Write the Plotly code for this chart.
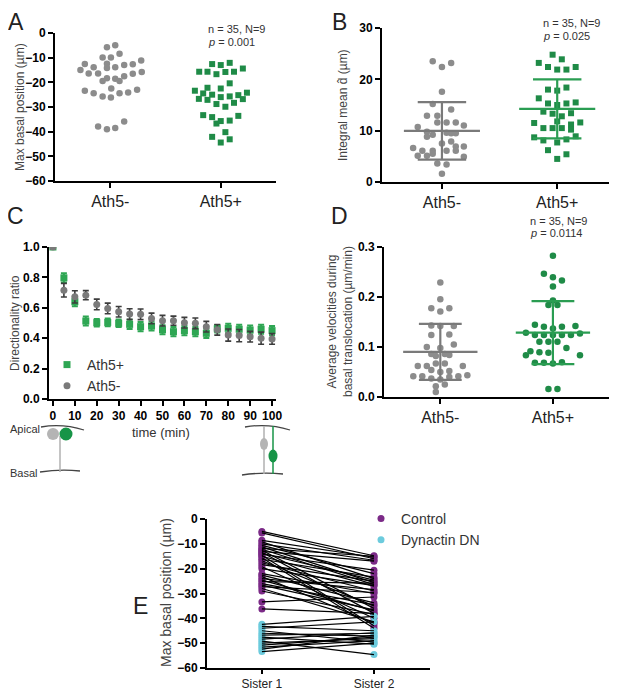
import plotly.graph_objects as go

# the page body keeps the browser's 8px margin, so the figure is drawn 8px smaller
# and all pixel positions below are given in window pixels
OFF = 8
W, H = 617, 691

# ---- data ----
groups = ["Ath5-", "Ath5+"]

# A: max basal position (um)
a_neg_val = [-5.8, -5.0, -8.4, -9.9, -9.9, -11.1, -12.6, -12.5, -13.0, -12.7, -13.9, -14.2, -13.9, -15.0,
             -16.4, -16.4, -16.5, -15.8, -17.5, -18.3, -18.5, -19.5, -19.5, -22.5, -23.4, -24.4, -24.4,
             -24.1, -23.0, -25.7, -26.1, -37.9, -39.0, -38.5, -35.9]
a_neg_off = [-0.03, 0.045, 0.084, -0.069, 0.006, 0.28, -0.23, -0.03, 0.126, 0.204, -0.15, -0.03, 0.045, -0.27,
             -0.195, -0.11, 0.204, 0.285, 0.126, -0.03, 0.045, -0.069, 0.084, 0.009, -0.23, -0.15, 0.084,
             0.162, 0.243, -0.069, 0.006, -0.11, -0.03, 0.045, 0.126]
a_pos_val = [-12.6, -13.0, -12.1, -15.7, -15.7, -16.7, -15.8, -15.7, -14.4, -20.4, -22.2, -22.5, -23.4, -24.5,
             -25.0, -26.7, -27.1, -26.0, -25.7, -25.2, -24.2, -26.8, -28.8, -29.9, -28.3, -33.3, -34.1,
             -36.7, -35.7, -35.5, -33.6, -42.1, -40.2, -44.4, -43.1]
a_pos_off = [-0.078, 0.0, 0.081, -0.195, -0.12, -0.039, 0.042, 0.12, 0.2, 0.081, -0.12, 0.0, -0.234, -0.159,
             -0.078, -0.198, -0.12, 0.0, 0.081, 0.159, 0.237, 0.2, -0.039, 0.042, 0.12, -0.159, -0.078,
             -0.039, 0.0, 0.081, 0.159, -0.078, 0.042, 0.0, 0.081]

# B: integral mean d (um)
b_neg_val = [23.5, 23.2, 22.4, 17.6, 15.2, 14.1, 12.9, 12.9, 11.6, 11.6, 11.6, 11.0, 10.7, 9.8, 9.6, 9.5,
             9.5, 9.2, 7.5, 6.6, 6.1, 6.9, 6.9, 6.1, 6.1, 6.1, 5.1, 5.5, 4.9, 5.1, 3.6, 3.4, 1.6, 8.8, 7.9]
b_neg_off = [-0.08, 0.08, 0.0, 0.0, -0.08, 0.08, -0.13, -0.04, 0.04, -0.04, 0.12, 0.19, -0.21, -0.13, 0.04,
             0.08, 0.12, -0.08, 0.0, -0.25, -0.17, 0.12, 0.19, -0.08, 0.04, 0.12, -0.21, -0.08, 0.19, -0.13,
             -0.04, 0.04, 0.0, -0.13, 0.08]
b_pos_val = [24.8, 23.9, 23.2, 22.4, 21.9, 21.9, 22.4, 18.0, 17.8, 18.4, 16.3, 15.3, 15.0, 15.3, 15.5, 13.7,
             13.3, 12.8, 13.4, 11.5, 11.8, 11.2, 11.6, 10.5, 10.5, 10.5, 10.2, 8.7, 8.1, 7.7, 8.3, 8.9, 6.2,
             5.4, 4.5]
b_pos_off = [-0.04, 0.04, -0.16, -0.08, 0.0, 0.08, 0.16, -0.08, 0.0, 0.08, -0.16, -0.08, 0.0, 0.08, 0.16,
             -0.12, -0.04, 0.04, 0.12, -0.2, 0.0, 0.12, 0.2, -0.12, -0.04, 0.04, 0.12, -0.2, -0.12, 0.0, 0.08,
             0.16, -0.08, 0.08, 0.0]
b_mean = [9.96, 14.25]
b_sd = [5.6, 5.75]

# C: directionality ratio over time
times = [0, 5, 10, 15, 20, 25, 30, 35, 40, 45, 50, 55, 60, 65, 70, 75, 80, 85, 90, 95, 100]
c_pos_mean = [1.0, 0.797, 0.64, 0.513, 0.502, 0.504, 0.498, 0.491, 0.476, 0.48, 0.456, 0.443, 0.45, 0.443,
              0.432, 0.462, 0.465, 0.459, 0.454, 0.459, 0.45]
c_pos_err = [0, 0.03, 0.03, 0.03, 0.025, 0.025, 0.025, 0.03, 0.03, 0.03, 0.03, 0.03, 0.03, 0.03, 0.03,
             0.025, 0.03, 0.03, 0.03, 0.03, 0.03]
c_neg_mean = [1.0, 0.716, 0.672, 0.683, 0.622, 0.596, 0.574, 0.559, 0.557, 0.53, 0.515, 0.515, 0.502, 0.498,
              0.476, 0.455, 0.421, 0.417, 0.41, 0.4, 0.395]
c_neg_err = [0, 0.045, 0.04, 0.03, 0.035, 0.035, 0.035, 0.035, 0.035, 0.035, 0.035, 0.03, 0.035, 0.035,
             0.035, 0.035, 0.04, 0.04, 0.035, 0.04, 0.035]

# D: average velocities (um/min)
d_neg_val = [0.229, 0.1955, 0.1775, 0.1775, 0.171, 0.143, 0.142, 0.142, 0.124, 0.125, 0.100, 0.098, 0.105,
             0.086, 0.086, 0.082, 0.084, 0.062, 0.062, 0.067, 0.067, 0.062, 0.054, 0.050, 0.052, 0.0415,
             0.0415, 0.037, 0.035, 0.040, 0.0415, 0.0435, 0.025, 0.0215, 0.010]
d_neg_off = [0.0, 0.0, -0.08, 0.08, 0.0, -0.08, 0.0, 0.12, -0.08, 0.08, -0.12, 0.0, 0.12, -0.08, 0.04, -0.04,
             0.08, -0.2, -0.12, -0.04, 0.04, 0.2, -0.08, 0.0, 0.08, -0.24, -0.16, -0.08, 0.0, 0.08, 0.16,
             0.24, 0.04, -0.04, -0.04]
d_pos_val = [0.2826, 0.2464, 0.2397, 0.233, 0.221, 0.193, 0.184, 0.184, 0.1446, 0.1406, 0.137, 0.1406, 0.142,
             0.1286, 0.124, 0.124, 0.124, 0.124, 0.124, 0.127, 0.1105, 0.1105, 0.1105, 0.098, 0.0917, 0.0897,
             0.0884, 0.0837, 0.0837, 0.0683, 0.0683, 0.067, 0.0696, 0.016, 0.016]
d_pos_off = [0.0, -0.08, 0.0, 0.08, 0.0, 0.0, -0.04, 0.04, -0.16, -0.08, 0.0, 0.08, 0.2, -0.24, -0.16, -0.08,
             0.0, 0.08, 0.16, 0.24, -0.12, -0.04, 0.04, 0.12, -0.2, -0.12, -0.04, -0.24, 0.24, -0.16, -0.08,
             0.0, 0.08, -0.04, 0.04]
d_mean = [0.0904, 0.1286]
d_sd = [0.056, 0.063]

# E: sister cells
sisters = ["Sister 1", "Sister 2"]
ctrl_s1 = [-5.0, -5.6, -8.6, -9.2, -10.0, -10.6, -11.2, -11.8, -12.2, -12.6, -13.0, -13.4, -13.8, -14.2,
           -14.6, -15.0, -15.6, -16.2, -16.8, -17.6, -18.4, -19.2, -20.0, -22.0, -22.6, -23.2, -24.0, -24.6,
           -25.2, -26.0, -26.6, -27.2, -28.0, -29.0, -33.4, -36.2]
ctrl_s2 = [-14.8, -16.0, -15.4, -24.0, -16.6, -22.0, -25.6, -15.0, -26.4, -36.0, -17.0, -38.0, -24.6, -20.6,
           -43.0, -27.0, -44.0, -23.4, -35.0, -29.0, -25.0, -40.0, -26.8, -30.0, -33.8, -42.0, -28.4, -37.0,
           -25.8, -34.6, -36.6, -29.6, -41.4, -38.4, -31.4, -38.0]
dn_s1 = [-42.4, -43.2, -44.0, -45.0, -46.0, -46.8, -47.6, -48.4, -49.2, -50.0, -50.8, -51.6, -52.4, -53.4]
dn_s2 = [-39.2, -45.0, -41.4, -49.6, -47.2, -46.0, -50.4, -45.8, -54.6, -48.2, -47.6, -49.0, -46.8, -50.0]

GRAY = "#8c8c8c"
GREEN = "#1f8b47"
CGREEN = "#2ea653"
PURPLE = "#7b2a87"
CYAN = "#6ccbdd"
FONT = "Liberation Sans, Arial, sans-serif"

FW, FH = W - OFF, H - OFF


def fx(p):
    return (p - OFF) / FW


def fy(p):
    return 1 - (p - OFF) / FH


def sd_bars(means, sds, half=0.33, cap=0.2):
    out = []
    for i, (m, s) in enumerate(zip(means, sds)):
        xs = [i - half, i + half, None, i, i, None, i - cap, i + cap, None, i - cap, i + cap]
        ys = [m, m, None, m - s, m + s, None, m + s, m + s, None, m - s, m - s]
        out.append((xs, ys))
    return out


fig = go.Figure()

# A
fig.add_trace(go.Scatter(x=[0 + o for o in a_neg_off], y=a_neg_val, mode="markers", xaxis="x", yaxis="y",
                         marker=dict(symbol="circle", size=6.5, color=GRAY), showlegend=False))
fig.add_trace(go.Scatter(x=[1 + o for o in a_pos_off], y=a_pos_val, mode="markers", xaxis="x", yaxis="y",
                         marker=dict(symbol="square", size=6, color=GREEN), showlegend=False))

# B
fig.add_trace(go.Scatter(x=[0 + o for o in b_neg_off], y=b_neg_val, mode="markers", xaxis="x2", yaxis="y2",
                         marker=dict(symbol="circle", size=6.5, color=GRAY), showlegend=False))
fig.add_trace(go.Scatter(x=[1 + o for o in b_pos_off], y=b_pos_val, mode="markers", xaxis="x2", yaxis="y2",
                         marker=dict(symbol="square", size=6, color=GREEN), showlegend=False))
for (xs, ys), col in zip(sd_bars(b_mean, b_sd, 0.33, 0.21), ["#7a7a7a", "#2a9d52"]):
    fig.add_trace(go.Scatter(x=xs, y=ys, mode="lines", xaxis="x2", yaxis="y2",
                             line=dict(color=col, width=2.2), showlegend=False))

# C
fig.add_trace(go.Scatter(x=times, y=c_pos_mean, mode="markers", xaxis="x3", yaxis="y3", name="Ath5+",
                         error_y=dict(type="data", array=c_pos_err, color=CGREEN, thickness=2, width=3),
                         marker=dict(symbol="square", size=7, color=CGREEN), legend="legend"))
fig.add_trace(go.Scatter(x=times, y=c_neg_mean, mode="markers", xaxis="x3", yaxis="y3", name="Ath5-",
                         error_y=dict(type="data", array=c_neg_err, color="#3c3c3c", thickness=1.6, width=3),
                         marker=dict(symbol="circle", size=7, color="#7a7a7a"), legend="legend"))

# D
fig.add_trace(go.Scatter(x=[0 + o for o in d_neg_off], y=d_neg_val, mode="markers", xaxis="x4", yaxis="y4",
                         marker=dict(symbol="circle", size=6.5, color=GRAY), showlegend=False))
fig.add_trace(go.Scatter(x=[1 + o for o in d_pos_off], y=d_pos_val, mode="markers", xaxis="x4", yaxis="y4",
                         marker=dict(symbol="circle", size=6.5, color=GREEN), showlegend=False))
for (xs, ys), col in zip(sd_bars(d_mean, d_sd, 0.33, 0.19), ["#7a7a7a", "#2a9d52"]):
    fig.add_trace(go.Scatter(x=xs, y=ys, mode="lines", xaxis="x4", yaxis="y4",
                             line=dict(color=col, width=2.2), showlegend=False))

# E
lx, ly = [], []
for s1, s2 in zip(ctrl_s1 + dn_s1, ctrl_s2 + dn_s2):
    lx += [0, 1, None]
    ly += [s1, s2, None]
fig.add_trace(go.Scatter(x=[0] * len(ctrl_s1) + [1] * len(ctrl_s2), y=ctrl_s1 + ctrl_s2, mode="markers",
                         xaxis="x5", yaxis="y5", name="Control", legend="legend2",
                         marker=dict(size=7, color=PURPLE)))
fig.add_trace(go.Scatter(x=[0] * len(dn_s1) + [1] * len(dn_s2), y=dn_s1 + dn_s2, mode="markers",
                         xaxis="x5", yaxis="y5", name="Dynactin DN", legend="legend2",
                         marker=dict(size=7, color=CYAN)))
fig.add_trace(go.Scatter(x=lx, y=ly, mode="lines", xaxis="x5", yaxis="y5",
                         line=dict(color="black", width=1.2), showlegend=False))

tickfont_b = dict(family=FONT, size=12, color="black", weight="bold")
axline = dict(showline=True, linecolor="black", linewidth=2, ticks="outside", ticklen=5, tickwidth=2,
              tickcolor="black", showgrid=False, zeroline=False, automargin=False)


def cat_x(dom, rng, labels, anchor, size=16):
    return dict(domain=dom, range=rng, tickvals=[0, 1], ticktext=labels, anchor=anchor,
                tickfont=dict(family=FONT, size=size, color="#222"), **axline)


fig.update_layout(
    template="none",
    width=FW, height=FH, margin=dict(l=0, r=0, t=0, b=0, pad=0),
    paper_bgcolor="white", plot_bgcolor="white",
    font=dict(family=FONT, color="#333"),
    xaxis=cat_x([fx(55), fx(276)], [-0.5, 1.5], groups, "y"),
    yaxis=dict(domain=[fy(181), fy(33)], range=[-60, 0], dtick=10, tickfont=tickfont_b, anchor="x", **axline),
    xaxis2=cat_x([fx(382), fx(616)], [-0.52, 1.51], groups, "y2"),
    yaxis2=dict(domain=[fy(182), fy(28)], range=[0, 30], dtick=10, tickfont=tickfont_b, anchor="x2",
                **axline),
    xaxis3=dict(domain=[fx(49), fx(276)], range=[-1.8, 101.8], dtick=10, tickfont=tickfont_b, anchor="y3",
                **axline),
    yaxis3=dict(domain=[fy(399), fy(247)], range=[0, 1.0], dtick=0.2, tickformat=".1f", tickfont=tickfont_b,
                anchor="x3", **axline),
    xaxis4=cat_x([fx(384), fx(616)], [-0.5, 1.56], groups, "y4"),
    yaxis4=dict(domain=[fy(397), fy(247)], range=[0, 0.3], dtick=0.1, tickformat=".1f", tickfont=tickfont_b,
                anchor="x4", **axline),
    xaxis5=cat_x([fx(207), fx(430)], [-0.49, 1.5], sisters, "y5", size=12),
    yaxis5=dict(domain=[fy(668), fy(519)], range=[-60, 0], dtick=10, tickfont=tickfont_b, anchor="x5",
                **axline),
    legend=dict(x=fx(47), y=fy(349), xanchor="left", yanchor="top", bgcolor="rgba(0,0,0,0)",
                font=dict(family=FONT, size=14, color="#333"), tracegroupgap=0, itemwidth=30),
    legend2=dict(x=fx(361), y=fy(503), xanchor="left", yanchor="top", bgcolor="rgba(0,0,0,0)",
                 font=dict(family=FONT, size=14, color="#333"), itemwidth=30),
)
fig.update_layout(xaxis5=dict(ticklen=4))


def note(x, y, text, size=11, color="#333", angle=0, xanchor="center"):
    fig.add_annotation(x=fx(x), y=fy(y), xref="paper", yref="paper", text=text, showarrow=False,
                       textangle=angle, xanchor=xanchor, yanchor="middle",
                       font=dict(family=FONT, size=size, color=color))


# panel letters
note(16, 22, "A", 23, "#222")
note(339, 22, "B", 23, "#222")
note(15, 216, "C", 23, "#222")
note(339, 216, "D", 23, "#222")
note(140, 606, "E", 23, "#222")

# axis titles
note(20, 107, "Max basal position (µm)", 12, "#444", -90)
note(343, 105, "Integral mean d\u0302 (µm)", 12, "#444", -90)
note(15, 323, "Directionality ratio", 12, "#444", -90)
note(340, 322, "Average velocities during<br>basal translocation (µm/min)", 12, "#444", -90)
note(166, 593, "Max basal position (µm)", 14, "#444", -90)
note(161, 432, "time (min)", 13, "#333")

# stats
note(206, 29, "n = 35, N=9", 11, "#333", xanchor="left")
note(206, 42, "<i>p</i> = 0.001", 11, "#333", xanchor="left")
note(541, 23, "n = 35, N=9", 11, "#333", xanchor="left")
note(541, 36, "<i>p</i> = 0.025", 11, "#333", xanchor="left")
note(528, 221, "n = 35, N=9", 11, "#333", xanchor="left")
note(528, 233, "<i>p</i> = 0.0114", 11, "#333", xanchor="left")

# cell cartoons under panel C
note(8, 429, "Apical", 11, "#333", xanchor="left")
note(8, 473, "Basal", 11, "#333", xanchor="left")


def path(pts):
    (x0, y0), (cx, cy), (x1, y1) = pts
    return f"M {fx(x0)},{fy(y0)} Q {fx(cx)},{fy(cy)} {fx(x1)},{fy(y1)}"


def line(x0, y0, x1, y1, col, w=1.5):
    fig.add_shape(type="line", xref="paper", yref="paper", x0=fx(x0), y0=fy(y0), x1=fx(x1), y1=fy(y1),
                  line=dict(color=col, width=w))


def blob(cx, cy, rx, ry, col):
    fig.add_shape(type="circle", xref="paper", yref="paper", x0=fx(cx - rx), x1=fx(cx + rx),
                  y0=fy(cy - ry), y1=fy(cy + ry), fillcolor=col, line=dict(width=0))


for pts in [((41, 427), (62, 423), (84, 430)), ((40, 472), (60, 469), (80, 471)),
            ((245, 427), (268, 423), (290, 430)), ((242, 475), (262, 472), (283, 474))]:
    fig.add_shape(type="path", xref="paper", yref="paper", path=path(pts), line=dict(color="#444", width=1.3))
line(60, 436, 60, 472, "#b0b0b0", 1.5)
blob(53, 434, 6, 6, "#b4b4b4")
blob(66, 434, 6.5, 6.5, "#179447")
line(264, 426, 264, 474, "#b0b0b0", 1.5)
line(273, 426, 273, 474, "#179447", 1.5)
blob(264, 444, 4, 6, "#b4b4b4")
blob(273, 456, 4.5, 6.5, "#179447")

fig.write_html("out.html")
